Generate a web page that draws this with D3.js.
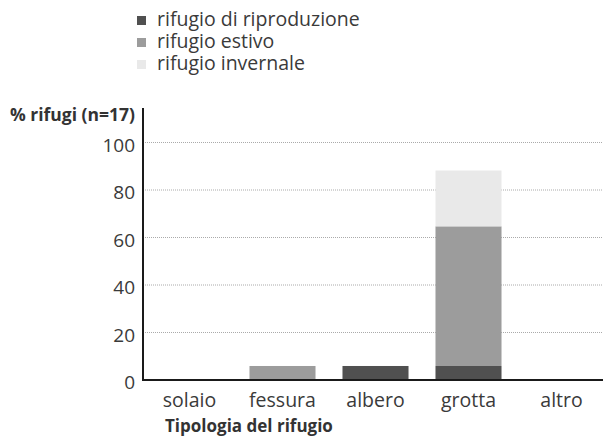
<!DOCTYPE html>
<html>
<head>
<meta charset="utf-8">
<script src="https://cdn.jsdelivr.net/npm/d3@7"></script>
<style>
  body { margin: 0; background: #fff; }
  svg text { font-family: "Open Sans", "Noto Sans", sans-serif; fill: #333; }
</style>
</head>
<body>
<div id="chart"></div>
<script>
// data (n=17, so 1 shelter = 5.9%)
var categories = ["solaio", "fessura", "albero", "grotta", "altro"];
var seriesNames = ["rifugio di riproduzione", "rifugio estivo", "rifugio invernale"];
var riproduzione = [0, 0, 5.9, 5.9, 0];
var estivo = [0, 5.9, 0, 58.8, 0];
var invernale = [0, 0, 0, 23.5, 0];
var yTicks = [0, 20, 40, 60, 80, 100];
var colors = ["#505050", "#9c9c9c", "#e9e9e9"];

var svgWidth = 603, svgHeight = 441;
var x0 = 143, x1 = 608, yBase = 380, yTop = 142.5;

var svg = d3.select("#chart").append("svg")
  .attr("width", svgWidth)
  .attr("height", svgHeight);

var table = categories.map(function(c, i) {
  return { cat: c, rip: riproduzione[i], est: estivo[i], inv: invernale[i] };
});
var stacked = d3.stack().keys(["rip", "est", "inv"])(table);

var xScale = d3.scaleBand()
  .domain(categories)
  .range([x0, x1])
  .paddingInner(0.29)
  .paddingOuter(0.145);

var yScale = d3.scaleLinear()
  .domain([0, 100])
  .range([yBase, yTop]);

// gridlines
svg.append("g")
  .selectAll("line")
  .data(yTicks.filter(function(d) { return d > 0; }))
  .enter().append("line")
  .attr("x1", x0 + 2).attr("x2", svgWidth)
  .attr("y1", function(d) { return yScale(d); })
  .attr("y2", function(d) { return yScale(d); })
  .attr("stroke", "#aaa")
  .attr("stroke-width", 1)
  .attr("stroke-dasharray", "1,1");

// bars
svg.append("g")
  .selectAll("g")
  .data(stacked)
  .enter().append("g")
  .attr("fill", function(d, i) { return colors[i]; })
  .selectAll("rect")
  .data(function(d) { return d.filter(function(p) { return p[1] - p[0] > 0; }); })
  .enter().append("rect")
  .attr("x", function(d) { return xScale(d.data.cat); })
  .attr("width", xScale.bandwidth())
  .attr("y", function(d) { return yScale(d[1]); })
  .attr("height", function(d) { return yScale(d[0]) - yScale(d[1]); });

// y axis
var leftAxis = d3.axisLeft(yScale).tickValues(yTicks).tickSize(0).tickPadding(8);
var yg = svg.append("g")
  .attr("transform", "translate(" + x0 + ",0)")
  .call(leftAxis);
yg.select(".domain").remove();
yg.selectAll("text")
  .attr("font-size", 19)
  .attr("dy", "0.45em")
  .style("fill", "#3a3a3a");
svg.append("line")
  .attr("x1", x0).attr("x2", x0)
  .attr("y1", 108).attr("y2", yBase + 1)
  .attr("stroke", "#1a1a1a").attr("stroke-width", 2);

// x axis
var bottomAxis = d3.axisBottom(xScale).tickSize(0).tickPadding(13);
var xg = svg.append("g")
  .attr("transform", "translate(0," + yBase + ")")
  .call(bottomAxis);
xg.select(".domain").remove();
xg.selectAll("text")
  .attr("font-size", 19.5)
  .style("fill", "#3a3a3a");
svg.append("line")
  .attr("x1", x0 - 1).attr("x2", svgWidth)
  .attr("y1", yBase).attr("y2", yBase)
  .attr("stroke", "#1a1a1a").attr("stroke-width", 2);

// axis titles
svg.append("text")
  .attr("x", 135).attr("y", 121)
  .attr("text-anchor", "end")
  .attr("font-size", 17.5)
  .attr("font-weight", "bold")
  .text("% rifugi (n=17)");

svg.append("text")
  .attr("x", 165).attr("y", 432)
  .attr("font-size", 17)
  .attr("font-weight", "bold")
  .text("Tipologia del rifugio");

// legend
var legend = svg.append("g").selectAll("g")
  .data(seriesNames)
  .enter().append("g")
  .attr("transform", function(d, i) { return "translate(137," + (16 + i * 22) + ")"; });
legend.append("rect")
  .attr("width", 9).attr("height", 9)
  .attr("fill", function(d, i) { return colors[i]; });
legend.append("text")
  .attr("x", 20).attr("y", 10)
  .attr("font-size", 19.5)
  .style("fill", "#3a3a3a")
  .text(function(d) { return d; });
</script>
</body>
</html>
